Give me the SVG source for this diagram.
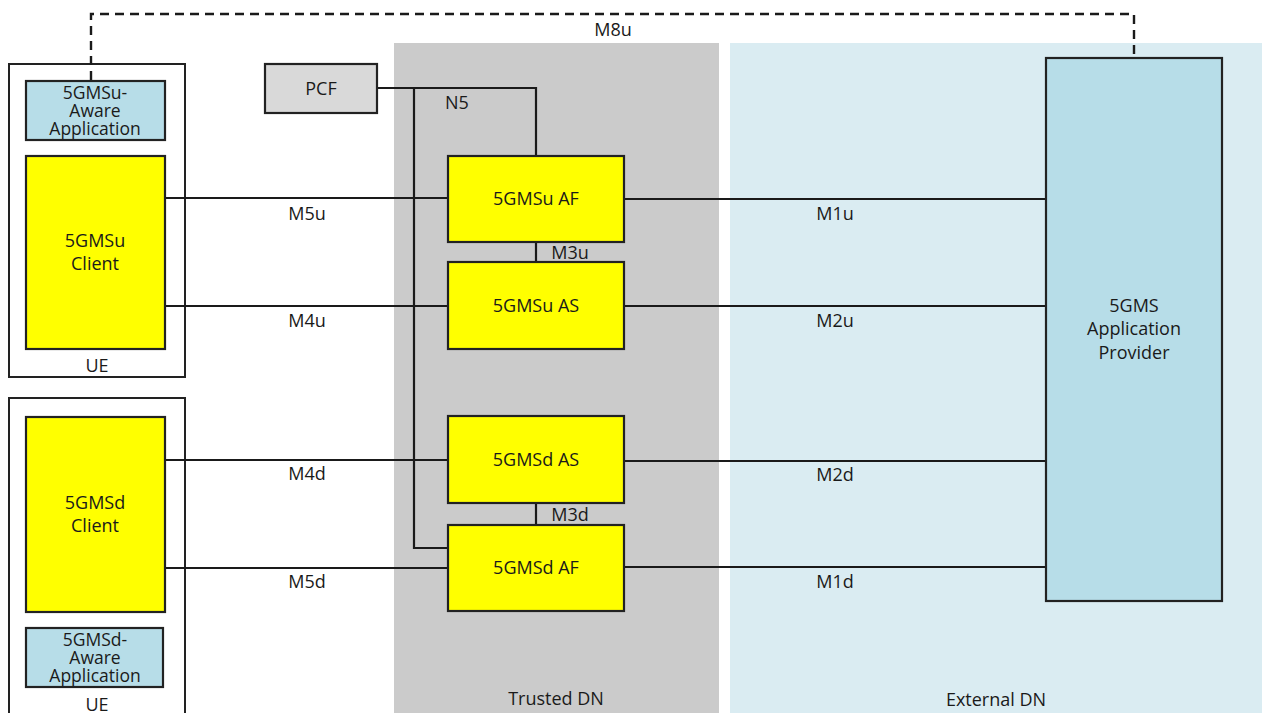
<svg xmlns="http://www.w3.org/2000/svg" width="1262" height="713" viewBox="0 0 1262 713">
<style>
text{font-family:"Open Sans","Liberation Sans",sans-serif;font-size:18px;fill:#1a1a1a;text-anchor:middle}
.sm{font-size:17.5px}
.box{stroke:#222;stroke-width:2.2}
.y{fill:#ffff00}
.b{fill:#b7dde8}
.g{fill:#d9d9d9}
.ue{fill:#fff;stroke:#222;stroke-width:2}
.ln{stroke:#1a1a1a;stroke-width:2.2;fill:none}
.dash{stroke:#1a1a1a;stroke-width:2.4;fill:none;stroke-dasharray:9 6}
</style>
<rect x="394" y="43" width="325" height="670" fill="#cbcbcb"/>
<rect x="730" y="43" width="532" height="670" fill="#daecf2"/>
<text x="556" y="705">Trusted DN</text>
<text x="996" y="706">External DN</text>

<g id="ue1"><rect class="ue" x="9" y="64" width="176" height="313"/><text x="97" y="372">UE</text></g>
<g id="ue2"><rect class="ue" x="9" y="398" width="176" height="330"/><text x="97" y="711">UE</text></g>

<g id="connectors">
<path class="dash" d="M91,80 V14 H1134 V58"/>
<path class="ln" d="M377,88 H536 V156"/>
<path class="ln" d="M414,88 V548 H448"/>
<line class="ln" x1="165" y1="198" x2="448" y2="198"/>
<line class="ln" x1="165" y1="306" x2="448" y2="306"/>
<line class="ln" x1="165" y1="460" x2="448" y2="460"/>
<line class="ln" x1="165" y1="568" x2="448" y2="568"/>
<line class="ln" x1="624" y1="199" x2="1046" y2="199"/>
<line class="ln" x1="624" y1="306" x2="1046" y2="306"/>
<line class="ln" x1="624" y1="461" x2="1046" y2="461"/>
<line class="ln" x1="624" y1="567" x2="1046" y2="567"/>
<line class="ln" x1="536" y1="242" x2="536" y2="262"/>
<line class="ln" x1="536" y1="503" x2="536" y2="525"/>
<text x="613" y="36">M8u</text>
<text x="457" y="109">N5</text>
<text x="307" y="220">M5u</text>
<text x="307" y="327">M4u</text>
<text x="307" y="480">M4d</text>
<text x="307" y="588">M5d</text>
<text x="835" y="220">M1u</text>
<text x="835" y="327">M2u</text>
<text x="835" y="481">M2d</text>
<text x="835" y="588">M1d</text>
<text x="570" y="259">M3u</text>
<text x="570" y="521">M3d</text>
</g>

<g id="app-u"><rect class="box b" x="26" y="81" width="139" height="59"/>
<text class="sm" x="95" y="99">5GMSu-</text><text class="sm" x="95" y="117">Aware</text><text class="sm" x="95" y="135">Application</text></g>
<g id="client-u"><rect class="box y" x="26" y="156" width="139" height="193"/>
<text x="95" y="247">5GMSu</text><text x="95" y="270">Client</text></g>
<g id="client-d"><rect class="box y" x="26" y="417" width="139" height="195"/>
<text x="95" y="509">5GMSd</text><text x="95" y="532">Client</text></g>
<g id="app-d"><rect class="box b" x="26" y="628" width="137" height="59"/>
<text class="sm" x="95" y="646">5GMSd-</text><text class="sm" x="95" y="664">Aware</text><text class="sm" x="95" y="682">Application</text></g>

<g id="pcf"><rect class="box g" x="265" y="64" width="112" height="49"/><text x="321" y="95">PCF</text></g>
<g id="af-u"><rect class="box y" x="448" y="156" width="176" height="86"/><text x="536" y="205">5GMSu AF</text></g>
<g id="as-u"><rect class="box y" x="448" y="262" width="176" height="87"/><text x="536" y="312">5GMSu AS</text></g>
<g id="as-d"><rect class="box y" x="448" y="416" width="176" height="87"/><text x="536" y="466">5GMSd AS</text></g>
<g id="af-d"><rect class="box y" x="448" y="525" width="176" height="86"/><text x="536" y="574">5GMSd AF</text></g>
<g id="provider"><rect class="box b" x="1046" y="58" width="176" height="543"/>
<text x="1134" y="312">5GMS</text><text x="1134" y="335">Application</text><text x="1134" y="359">Provider</text></g>
</svg>
